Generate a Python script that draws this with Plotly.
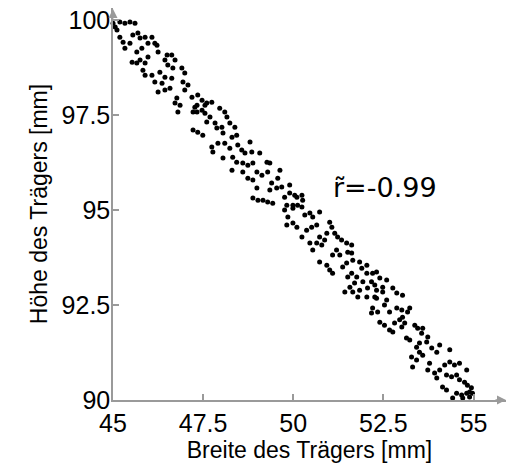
import plotly.graph_objects as go

# Breite (x) and Höhe (y) of the beams.
breite = [
    45.00, 45.06, 45.11, 45.19, 45.33, 45.47, 45.61, 45.19, 45.28, 45.33,
    45.47, 45.55, 45.69, 45.75, 45.89, 46.08, 46.16, 46.22, 45.97, 45.80,
    45.66, 45.53, 45.66, 45.75, 45.89, 45.97, 46.25, 46.50, 46.63, 46.44,
    46.52, 46.72, 46.66, 46.91, 46.99, 45.83, 45.89, 46.08, 46.30, 46.44,
    46.63, 46.16, 46.36, 46.25, 46.44, 46.58, 46.94, 47.08, 46.99, 46.77,
    46.72, 46.86, 47.19, 47.35, 47.47, 47.55, 47.74, 47.27, 47.33, 46.80,
    47.55,
    47.22, 47.33, 47.47, 47.60, 47.96, 48.10, 47.69, 47.60, 47.83, 47.88,
    48.02, 48.16, 48.24, 48.05, 47.22, 47.35, 47.49, 47.74, 47.77, 47.91,
    48.10, 48.30, 48.38, 48.43, 48.24, 48.46, 48.57, 48.66, 48.80, 48.85,
    48.05, 48.32, 48.43, 48.30, 48.60, 48.74, 48.88, 49.07, 49.27, 49.35,
    48.99, 48.60, 48.74, 48.88, 49.13, 49.29, 49.63, 49.57, 49.40, 48.99,
    49.35, 49.54, 49.68, 49.90, 49.76, 48.88, 49.02, 49.16, 49.29, 49.43,
    49.90, 50.10, 49.99,
    50.04, 50.24, 50.26, 49.82, 49.76, 49.99, 50.12, 50.24, 50.73, 50.32,
    50.46, 50.54, 49.85, 49.82, 49.99, 50.10, 50.24, 50.37, 50.51, 50.65,
    51.01, 51.07, 50.93, 50.73, 50.87, 51.15, 51.23, 51.34, 51.48, 51.62,
    50.46, 50.65, 50.79, 50.54, 51.20, 51.29, 51.09, 51.51, 51.62, 50.73,
    50.93, 51.01, 51.09, 51.37, 51.48, 51.65, 51.84, 52.04, 51.90, 51.51,
    51.62, 51.76, 52.04, 52.20, 52.31, 52.40, 52.17, 51.93, 51.70, 51.57,
    51.43, 51.65, 51.84, 52.06, 52.31, 52.48, 52.59, 51.79, 52.04, 52.26,
    52.26, 52.48, 52.76, 52.87, 53.03, 52.31, 52.59, 52.53, 52.20, 52.17,
    52.34, 52.67, 52.87, 53.01, 53.17, 53.23, 52.40, 52.53, 52.67, 52.76,
    52.81, 52.95, 53.03, 53.01, 53.09, 53.14, 53.23, 53.37, 53.45, 53.56,
    53.59, 53.73, 53.70, 53.50, 53.42, 53.28, 53.42, 53.31, 53.50, 53.59,
    53.84, 53.98, 54.06, 54.34, 53.78, 53.73, 53.92, 53.98, 54.06, 54.20,
    54.34, 54.47, 54.61, 54.81, 54.25, 54.39, 54.53, 54.61, 54.75, 54.83,
    54.94, 54.14, 54.25, 54.53, 54.67, 54.81, 54.89, 54.97, 54.42, 54.70,
    54.89,
]
hoehe = [
    99.92, 99.82, 99.74, 99.95, 99.92, 99.95, 99.92, 99.55, 99.42, 99.26,
    99.39, 99.61, 99.66, 99.53, 99.55, 99.55, 99.39, 99.34, 99.39, 99.26,
    99.16, 98.89, 98.87, 98.95, 98.87, 99.03, 99.16, 99.08, 99.08, 98.95,
    98.82, 98.95, 98.74, 98.74, 98.61, 98.68, 98.55, 98.55, 98.63, 98.50,
    98.47, 98.37, 98.34, 98.11, 98.16, 98.21, 98.37, 98.29, 98.16, 97.95,
    97.82, 97.76, 97.97, 98.03, 97.89, 97.76, 97.84, 97.71, 97.58, 97.58,
    97.55,
    97.58, 97.76, 97.63, 97.82, 97.68, 97.58, 97.45, 97.32, 97.29, 97.16,
    97.18, 97.45, 97.29, 97.03, 97.11, 97.05, 96.97, 96.66, 96.53, 96.76,
    96.76, 96.92, 97.18, 96.97, 96.63, 96.71, 96.58, 96.50, 96.79, 96.53,
    96.37, 96.39, 96.26, 96.05, 96.24, 96.18, 96.24, 96.50, 96.26, 96.24,
    96.00, 96.00, 95.84, 95.79, 95.92, 96.00, 96.05, 95.84, 95.71, 95.58,
    95.53, 95.58, 95.61, 95.66, 95.34, 95.32, 95.26, 95.26, 95.21, 95.18,
    95.45, 95.34, 95.13,
    95.39, 95.39, 95.26, 95.13, 95.00, 95.05, 95.13, 95.08, 94.95, 94.87,
    94.92, 94.82, 94.82, 94.61, 94.66, 94.55, 94.29, 94.47, 94.55, 94.61,
    94.68, 94.55, 94.39, 94.29, 94.21, 94.39, 94.29, 94.21, 94.13, 94.08,
    94.13, 94.13, 94.08, 93.95, 93.95, 93.82, 93.82, 93.89, 93.87, 93.63,
    93.55, 93.42, 93.34, 93.50, 93.61, 93.68, 93.63, 93.55, 93.47, 93.24,
    93.34, 93.24, 93.34, 93.34, 93.37, 93.21, 93.11, 93.11, 93.08, 92.97,
    92.84, 92.84, 92.89, 92.95, 92.89, 92.97, 93.16, 92.71, 92.71, 92.71,
    93.03, 92.84, 92.95, 92.82, 92.76, 92.68, 92.63, 92.50, 92.42, 92.29,
    92.32, 92.32, 92.42, 92.37, 92.32, 92.42, 92.05, 91.97, 91.84, 91.79,
    92.03, 92.11, 92.18, 91.92, 92.03, 91.63, 91.58, 91.97, 91.89, 91.76,
    91.89, 91.66, 91.53, 91.50, 91.39, 91.13, 91.05, 90.87, 91.26, 91.18,
    91.37, 91.26, 91.45, 91.32, 90.97, 90.79, 90.71, 90.58, 90.79, 90.92,
    91.00, 90.92, 90.97, 90.79, 90.66, 90.61, 90.66, 90.53, 90.47, 90.39,
    90.32, 90.34, 90.26, 90.18, 90.13, 90.18, 90.21, 90.18, 90.05, 90.05,
    90.08,
]
x_ticks = [45, 47.5, 50, 52.5, 55]
y_ticks = [90, 92.5, 95, 97.5, 100]
r_text = "r\u0303=-0.99"

fig = go.Figure()
fig.add_trace(go.Scatter(x=breite, y=hoehe, mode="markers",
                         marker=dict(color="black", size=5),
                         cliponaxis=False, showlegend=False))

axis_style = dict(showgrid=False, zeroline=False, showline=True,
                  automargin=False, ticklabeloverflow="allow",
                  linecolor="#9a9a9a", linewidth=1.5, ticks="inside",
                  ticklen=6, tickcolor="#9a9a9a", tickwidth=1.5,
                  tickfont=dict(family="Liberation Sans", size=25, color="black"),
                  title_font=dict(family="Liberation Sans", size=23, color="black"))

fig.update_xaxes(range=[45, 55.9], tickvals=x_ticks,
                 ticktext=[f"{v:g}" for v in x_ticks],
                 title_text="Breite des Trägers [mm]", title_standoff=0,
                 **axis_style)
fig.update_yaxes(range=[90, 100.32], tickvals=y_ticks,
                 ticktext=[f"{v:g}" for v in y_ticks],
                 ticklabelstandoff=-4,
                 title_text="Höhe des Trägers [mm]", title_standoff=8,
                 **axis_style)

# Arrowheads at the ends of both axes.
fig.add_annotation(x=1, y=0, xref="paper", yref="paper", ax=-12, ay=0,
                   showarrow=True, arrowhead=2, arrowsize=1.2, arrowwidth=1.5,
                   arrowcolor="#9a9a9a", text="")
fig.add_annotation(x=0, y=1, xref="paper", yref="paper", ax=0, ay=12,
                   showarrow=True, arrowhead=2, arrowsize=1.2, arrowwidth=1.5,
                   arrowcolor="#9a9a9a", text="")

fig.add_annotation(x=0.692, y=0.543, xref="paper", yref="paper", text=r_text,
                   showarrow=False, xanchor="center", yanchor="middle",
                   font=dict(family="DejaVu Sans", size=27, color="black"))

# The page adds an 8 px body margin, so the figure is a bit smaller.
fig.update_layout(width=506, height=458, plot_bgcolor="white",
                  paper_bgcolor="white",
                  margin=dict(l=105, r=8, t=0, b=66))

fig.write_html("out.html")
